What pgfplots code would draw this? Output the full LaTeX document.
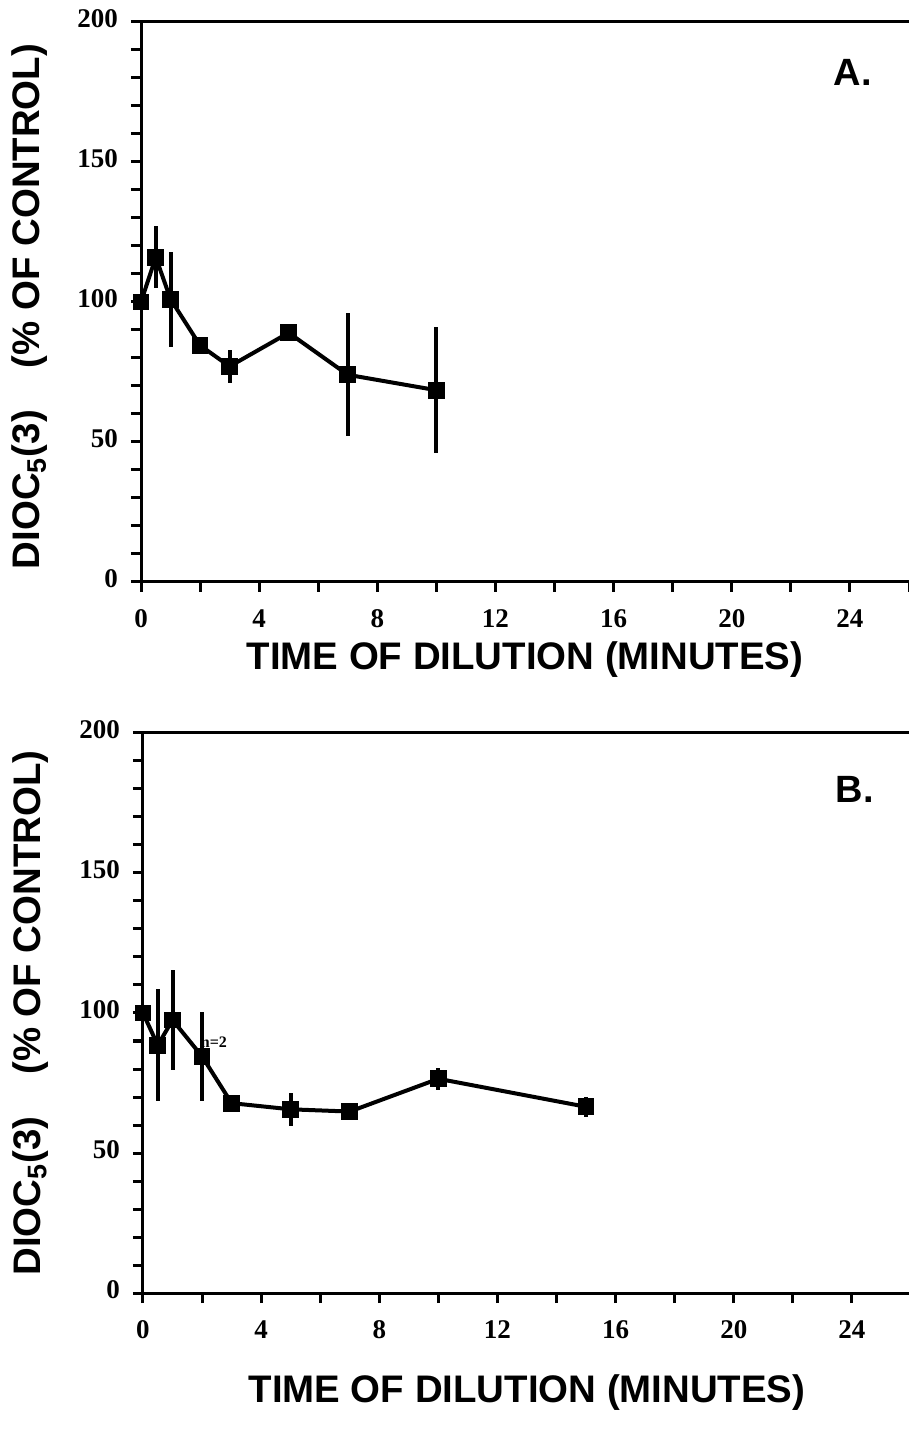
\documentclass[border=0pt]{standalone}
\usepackage{pgfplots}
\pgfplotsset{compat=1.18}
\usepackage{fontspec}
\setmainfont{Liberation Serif}
\setsansfont{Liberation Sans}

\pgfplotstableread{
x y e
0 100 0
0.5 116 11
1 101 17
2 84.5 0
3 77 6
5 89 0
7 74 22
10 68.5 22.5
}\dataA

\pgfplotstableread{
x y e
0 100 0
0.5 88.5 20
1 97.5 18
2 84.5 16
3 67.8 0
5 65.6 6
7 64.8 0
10 76.5 4
15 66.5 3.5
}\dataB

\pgfplotsset{
  panel/.style={
    scale only axis,
    width=384pt, height=280pt,
    xmin=0, xmax=26, ymin=0, ymax=200,
    axis x line=box, axis y line=left,
    axis line style={line width=1.5pt, -},
    xtick={0,4,...,24}, minor xtick={2,6,...,26},
    ytick={0,50,...,200}, minor ytick={10,20,30,40,60,70,80,90,110,120,130,140,160,170,180,190},
    tick align=outside, xtick pos=left, ytick pos=left,
    major tick length=5pt, minor tick length=5pt,
    every tick/.style={line width=1.5pt, black},
    /pgf/number format/assume math mode=true,
    typeset ticklabels with strut,
    ticklabel style={font=\bfseries\fontsize{13.5}{13.5}\selectfont},
    xticklabel style={yshift=-5pt},
    yticklabel style={xshift=-3pt},
    xlabel={TIME OF DILUTION (MINUTES)},
    ylabel={DIOC\textsubscript{5}(3)\hspace{21pt}(\% OF CONTROL)},
    label style={font=\sffamily\bfseries\fontsize{19.2}{19.2}\selectfont},
  },
  dat/.style={black, line width=2pt, mark=square*, mark size=3.2pt,
    mark options={fill=black, solid},
    error bars/.cd, y dir=both, y explicit, error mark=none,
    error bar style={line width=2pt}},
}

\begin{document}
\begin{tikzpicture}
\path[use as bounding box] (0,0) rectangle (454.5pt,715.5pt);
\begin{axis}[panel, at={(70.5pt,424.5pt)}, anchor=south west,
  ylabel style={at={(axis description cs:-0.145,0.492)}, anchor=center},
  xlabel style={at={(axis description cs:0.5,-0.139)}, anchor=center}]
\addplot[dat] table[x=x, y=y, y error=e] {\dataA};
\node[font=\sffamily\bfseries\fontsize{19}{19}\selectfont] at (axis cs:24.1,182) {A.};
\end{axis}
\begin{axis}[panel, at={(71.5pt,69pt)}, anchor=south west,
  ylabel style={at={(axis description cs:-0.147,0.5)}, anchor=center},
  xlabel style={at={(axis description cs:0.5,-0.178)}, anchor=center}]
\addplot[dat] table[x=x, y=y, y error=e] {\dataB};
\node[font=\bfseries\fontsize{8}{8}\selectfont] at (axis cs:2.4,89.5) {n=2};
\node[font=\sffamily\bfseries\fontsize{19}{19}\selectfont] at (axis cs:24.1,180) {B.};
\end{axis}
\end{tikzpicture}
\end{document}
